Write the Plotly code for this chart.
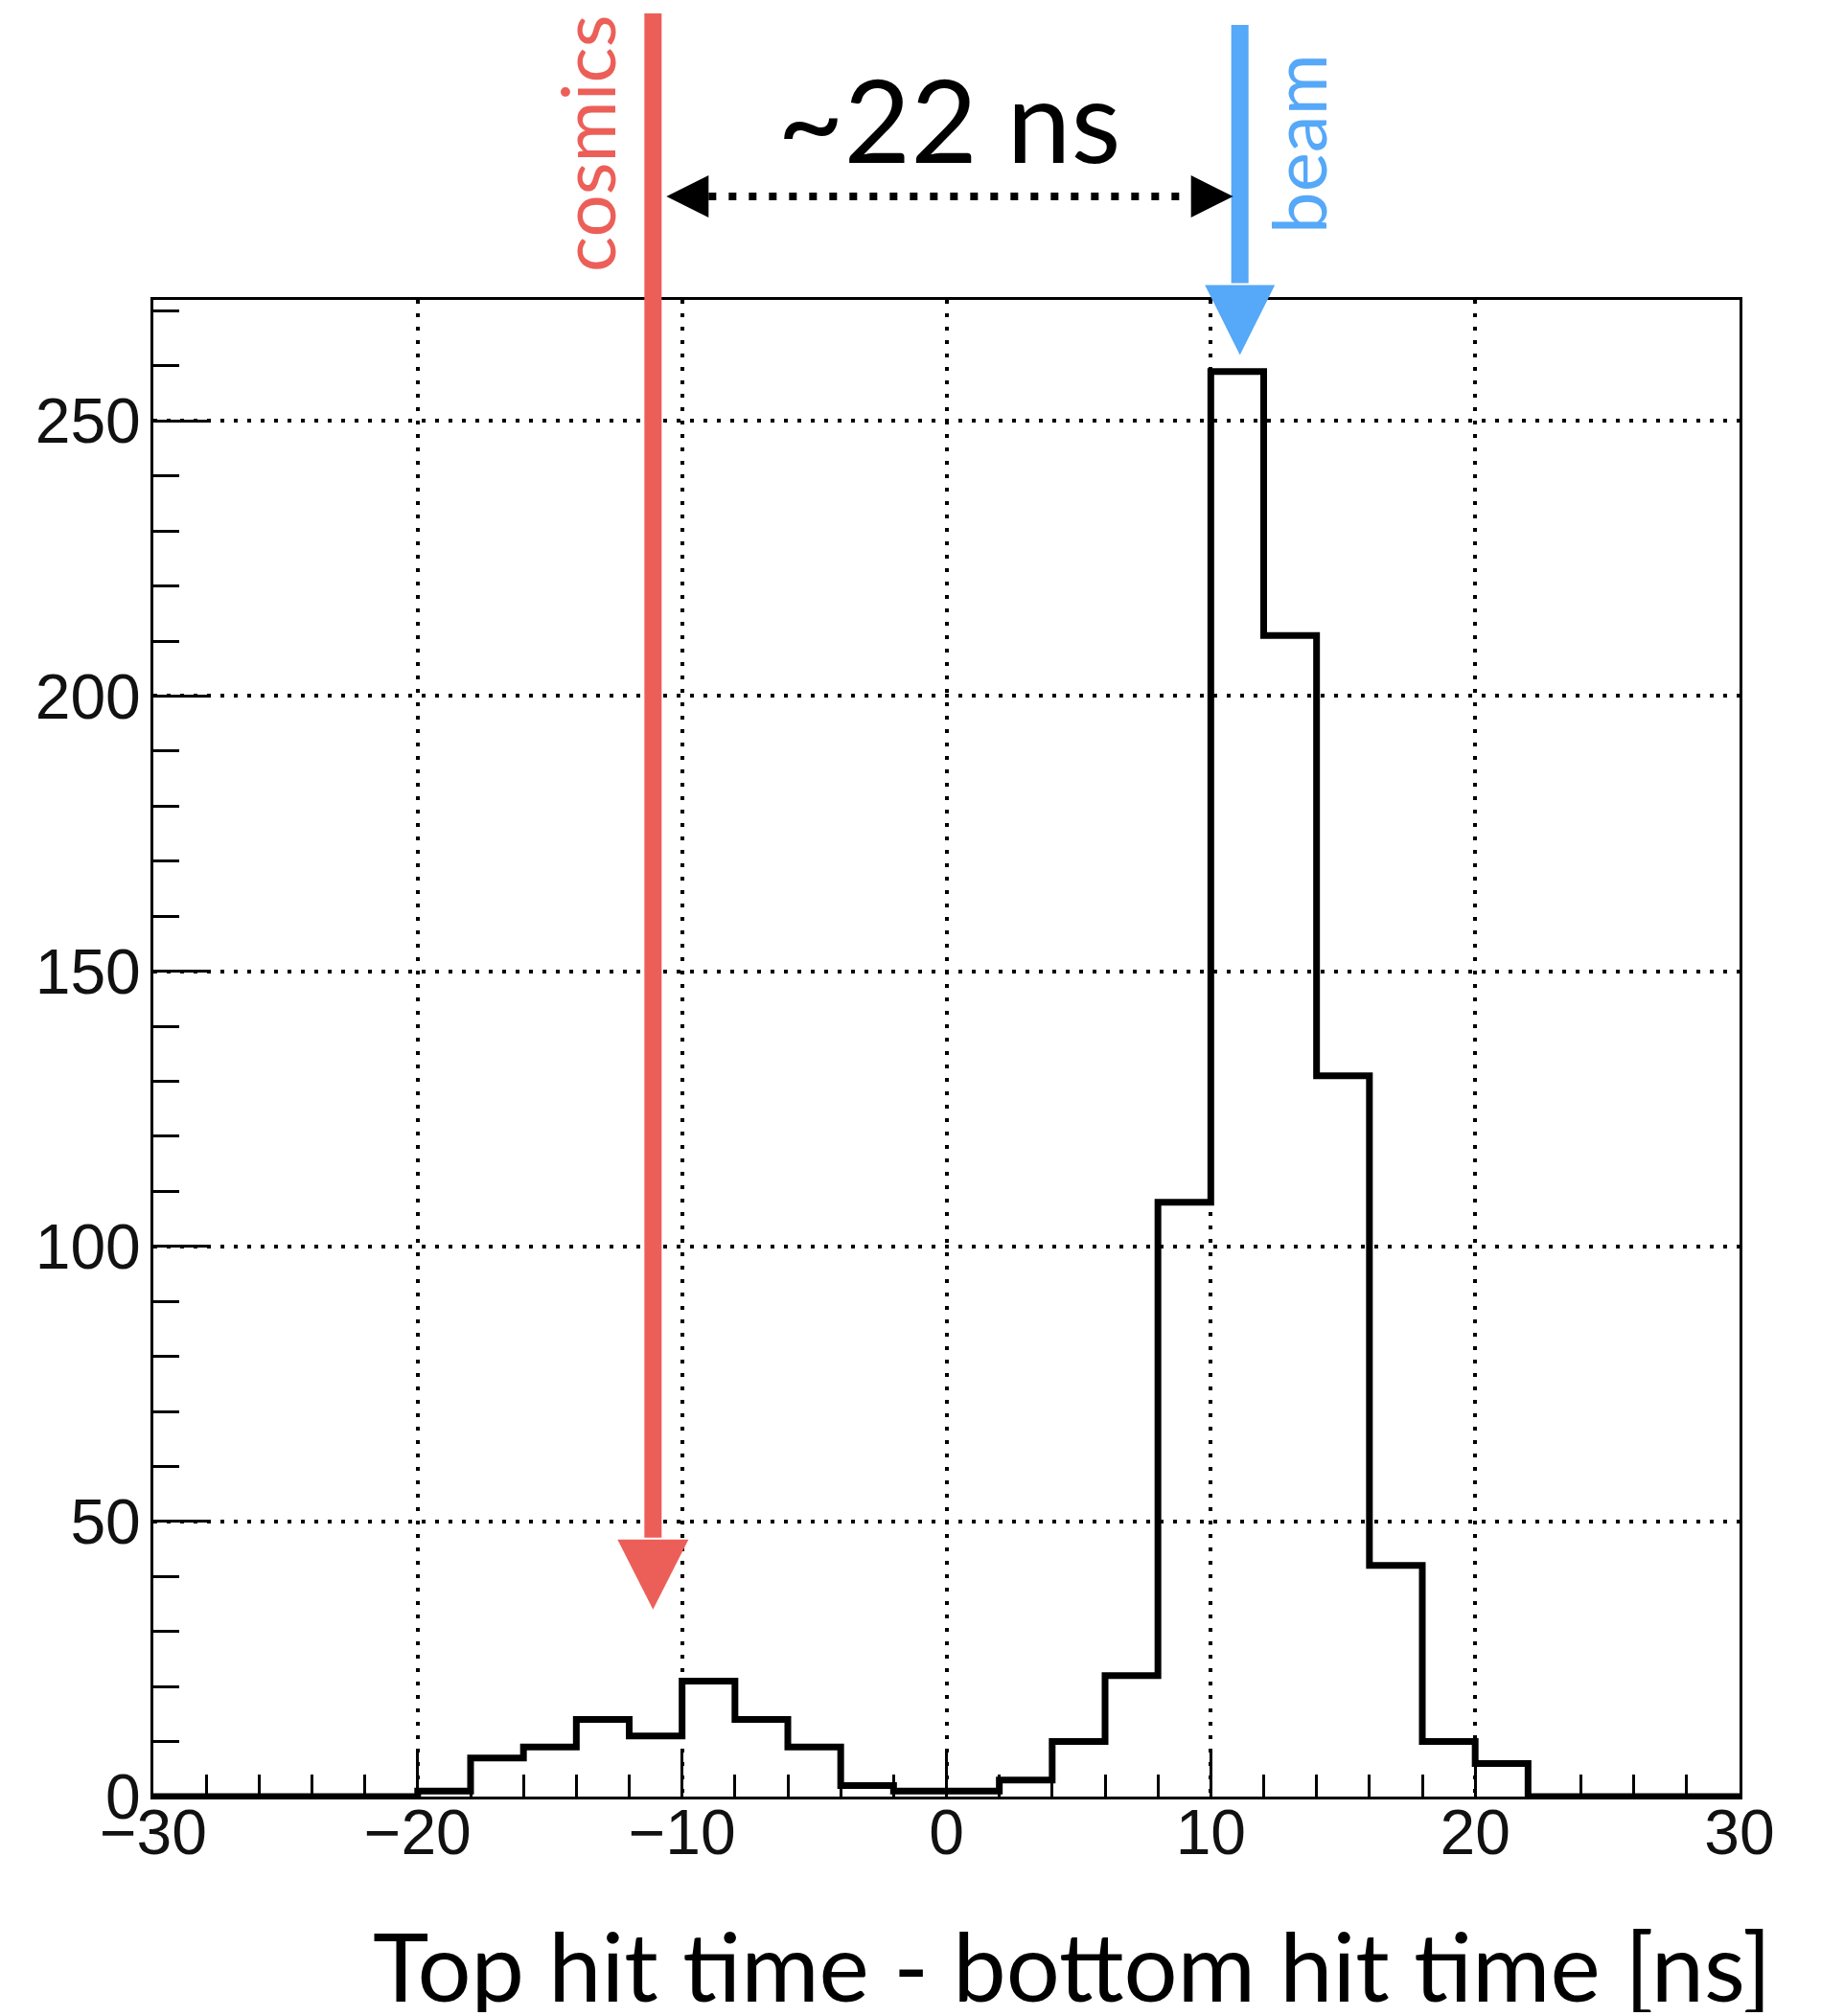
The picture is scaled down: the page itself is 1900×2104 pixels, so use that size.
import plotly.graph_objects as go

# ---------------- data ----------------
BIN_EDGES = [-30, -28, -26, -24, -22, -20, -18, -16, -14, -12, -10, -8, -6, -4, -2,
             0, 2, 4, 6, 8, 10, 12, 14, 16, 18, 20, 22, 24, 26, 28, 30]
COUNTS = [0, 0, 0, 0, 0, 1, 7, 9, 14, 11, 21, 14, 9, 2, 1,
          1, 3, 10, 22, 108, 259, 211, 131, 42, 10, 6, 0, 0, 0, 0]
X_TICKS = [-30, -20, -10, 0, 10, 20, 30]
Y_TICKS = [0, 50, 100, 150, 200, 250]
X_TITLE = "Top hit time - bottom hit time [ns]"
COSMICS_LABEL = "cosmics"
BEAM_LABEL = "beam"
GAP_LABEL = "~22 ns"
COSMICS_X = -11.1   # cosmics peak position (ns)
COSMICS_TIP_Y = 34  # arrow tip (counts)
BEAM_X = 11.1       # beam peak position (ns)
BEAM_TIP_Y = 262    # arrow tip (counts)

X_MIN, X_MAX = -30, 30
Y_MAX = 272

# ---------------- layout geometry (page pixels) ----------------
OFF = 6  # page offset of the figure
W, H = 1900 - 2 * OFF, 2104 - 2 * OFF
L, R, T, B = 158 - OFF, 1813 - OFF, 311 - OFF, 1873 - OFF
RED = "#EC5F58"
BLUE = "#56A8F8"
TEXT_FONT = "Lato"
TICK_FONT = "Liberation Sans"


def px_x(p):  # page pixel -> paper x
    return (p - OFF - L) / (R - L)


def px_y(p):  # page pixel -> paper y
    return (B - (p - OFF)) / (B - T)


def dx(x):
    return (x - X_MIN) / (X_MAX - X_MIN)


def dy(y):
    return y / Y_MAX


def sx(p):  # pixel length -> paper width
    return p / (R - L)


def sy(p):  # pixel length -> paper height
    return p / (B - T)


# step histogram
xs = BIN_EDGES[:-1] + [BIN_EDGES[-1]]
ys = COUNTS + [COUNTS[-1]]

fig = go.Figure()
fig.add_trace(go.Scatter(
    x=xs, y=ys, mode="lines",
    line=dict(color="black", width=7, shape="hv"),
    cliponaxis=False, hoverinfo="skip", showlegend=False,
))

shapes = []


def down_arrow(xd, top_px, tip_yd, color, lw, head_w, head_h):
    xp = dx(xd)
    tip = dy(tip_yd)
    base = tip + sy(head_h)
    shapes.append(dict(type="line", xref="paper", yref="paper",
                       x0=xp, x1=xp, y0=px_y(top_px), y1=base + sy(2),
                       line=dict(color=color, width=lw), layer="above"))
    hw = sx(head_w) / 2
    shapes.append(dict(type="path", xref="paper", yref="paper",
                       path=f"M {xp - hw},{base} L {xp + hw},{base} L {xp},{tip} Z",
                       fillcolor=color, line=dict(color=color, width=0), layer="above"))


down_arrow(COSMICS_X, 12, COSMICS_TIP_Y, RED, 18, 74, 73)
down_arrow(BEAM_X, 24, BEAM_TIP_Y, BLUE, 18, 73, 73)

# dotted double arrow between peaks
ay = px_y(203)
left_tip = dx(COSMICS_X) + sx(14)
right_tip = dx(BEAM_X) - sx(7)
head_len, head_half = sx(44), sy(22)
shapes.append(dict(type="line", xref="paper", yref="paper",
                   x0=left_tip + head_len, x1=right_tip - head_len, y0=ay, y1=ay,
                   line=dict(color="black", width=8, dash="8px,13px"), layer="above"))
shapes.append(dict(type="path", xref="paper", yref="paper",
                   path=f"M {left_tip},{ay} L {left_tip + head_len},{ay + head_half} "
                        f"L {left_tip + head_len},{ay - head_half} Z",
                   fillcolor="black", line=dict(width=0), layer="above"))
shapes.append(dict(type="path", xref="paper", yref="paper",
                   path=f"M {right_tip},{ay} L {right_tip - head_len},{ay + head_half} "
                        f"L {right_tip - head_len},{ay - head_half} Z",
                   fillcolor="black", line=dict(width=0), layer="above"))

annotations = [
    dict(text=COSMICS_LABEL, xref="paper", yref="paper", x=px_x(610), y=px_y(148),
         xanchor="center", yanchor="middle", textangle=-90, showarrow=False,
         font=dict(family=TEXT_FONT, size=78, color=RED)),
    dict(text=BEAM_LABEL, xref="paper", yref="paper", x=px_x(1352), y=px_y(148),
         xanchor="center", yanchor="middle", textangle=-90, showarrow=False,
         font=dict(family=TEXT_FONT, size=78, color=BLUE)),
    dict(text=GAP_LABEL, xref="paper", yref="paper", x=px_x(988), y=px_y(122),
         xanchor="center", yanchor="middle", showarrow=False,
         font=dict(family=TEXT_FONT, size=120, color="black")),
    dict(text=X_TITLE, xref="paper", yref="paper", x=px_x(1116), y=px_y(2048),
         xanchor="center", yanchor="middle", showarrow=False,
         font=dict(family=TEXT_FONT, size=99, color="black")),
]

axis_common = dict(
    showline=True, linecolor="black", linewidth=3, mirror=True,
    ticks="inside", tickcolor="black", tickwidth=3,
    showgrid=True, gridcolor="black", gridwidth=4, griddash="4px,10px",
    zeroline=False,
    tickfont=dict(family=TICK_FONT, size=66, color="#111111"),
)

fig.update_layout(
    width=W, height=H,
    margin=dict(l=L, r=W - R, t=T, b=H - B, pad=0),
    paper_bgcolor="white", plot_bgcolor="white",
    showlegend=False,
    shapes=shapes, annotations=annotations,
    xaxis=dict(range=[X_MIN, X_MAX], tickvals=X_TICKS, ticklen=47,
               ticklabelstandoff=-22,
               minor=dict(dtick=2, ticklen=23, tickwidth=3, tickcolor="black", ticks="inside",
                          showgrid=False),
               **axis_common),
    yaxis=dict(range=[0, Y_MAX], tickvals=Y_TICKS, ticklen=58,
               ticklabelstandoff=-3,
               minor=dict(dtick=10, tick0=0, ticklen=27, tickwidth=3, tickcolor="black",
                          ticks="inside", showgrid=False),
               **axis_common),
)

fig.write_html("out.html")
